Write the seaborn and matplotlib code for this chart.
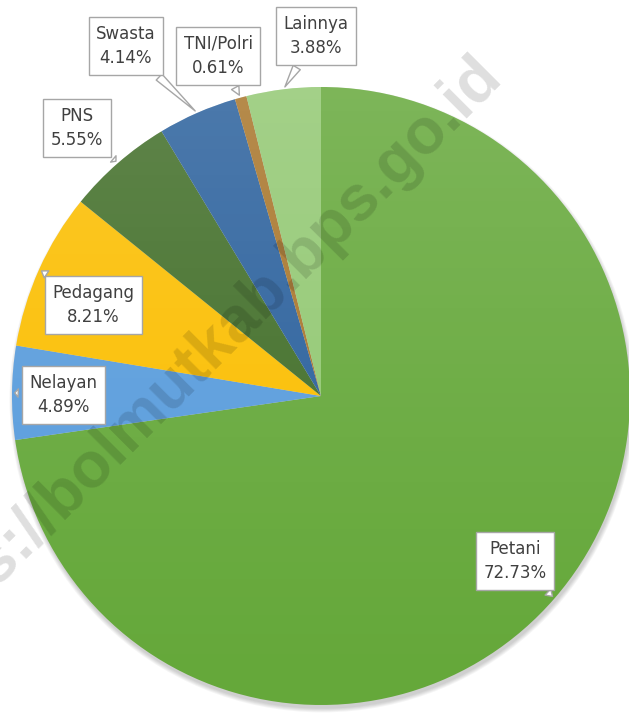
import numpy as np
import matplotlib
matplotlib.use("Agg")
import matplotlib.pyplot as plt
import seaborn as sns
from matplotlib.patches import Circle

# data
labels = ['Petani', 'Nelayan', 'Pedagang', 'PNS', 'Swasta', 'TNI/Polri', 'Lainnya']
shares = [72.73, 4.89, 8.21, 5.55, 4.14, 0.61, 3.88]
colors = ['#65a83a', '#589cdc', '#fbbe00', '#416e28', '#2a609c', '#a8752a', '#92c872']

# label box centres (pixels, from top-left)
box_px = [(515, 561), (63, 395), (93, 305), (77, 128), (126, 46), (218, 56), (316, 36)]

sns.set_theme(style='white')
plt.rcParams['font.family'] = ['DejaVu Sans']

W, H = 629, 713
cx, cy, r = 321, 396, 309

fig = plt.figure(figsize=(W / 100, H / 100), dpi=100)
ax = fig.add_axes([0, 0, 1, 1])

# soft shadow, mostly below the pie
for k in range(5):
    ax.add_patch(Circle((0.004, -0.012), 1.0 + 0.003 * k, color='black',
                        alpha=0.04, lw=0, zorder=0))

wedges, _ = ax.pie(shares, colors=colors, startangle=90, counterclock=False,
                   radius=1, wedgeprops=dict(linewidth=0, zorder=1))

# light vertical gradient, lighter at the top
grad = np.linspace(0, 1, 256)
rgba = np.ones((256, 1, 4))
rgba[:, 0, 3] = 0.16 * grad ** 1.2
img = ax.imshow(rgba, extent=(-1, 1, -1, 1), origin='lower', aspect='auto', zorder=2)
img.set_clip_path(Circle((0, 0), 1, transform=ax.transData))

ax.set_xlim(-cx / r, (W - cx) / r)
ax.set_ylim(-(H - cy) / r, cy / r)
ax.set_aspect('equal')
ax.axis('off')

# watermark
ax.text(0.553, 1.068, 'https://bolmutkab.bps.go.id', rotation=45, rotation_mode='anchor',
        ha='right', va='center', fontsize=46, fontweight='bold', family='Liberation Sans',
        color='black', alpha=0.13, zorder=5)

for w, lab, val, (bx, by) in zip(wedges, labels, shares, box_px):
    mid = np.deg2rad((w.theta1 + w.theta2) / 2)
    tx, ty = (bx - cx) / r, (cy - by) / r
    ax.annotate(f'{lab}\n{val:.2f}%', xy=(np.cos(mid), np.sin(mid)), xytext=(tx, ty),
                ha='center', va='center', fontsize=12, color='#404040', linespacing=1.45,
                bbox=dict(boxstyle='square,pad=0.45', fc='white', ec='#a6a6a6', lw=1),
                arrowprops=dict(arrowstyle='wedge,tail_width=0.5,shrink_factor=0.5',
                                fc='white', ec='#a6a6a6', lw=1),
                zorder=6)

plt.savefig('out.png', dpi=100)
